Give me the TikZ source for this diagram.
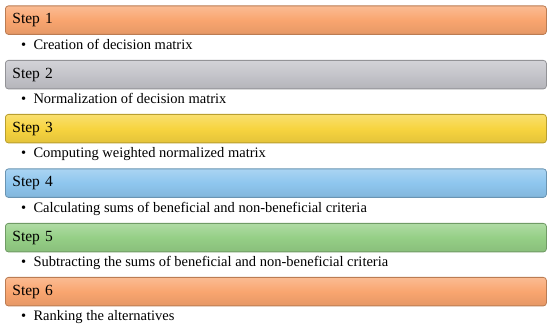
\documentclass[tikz,border=0pt]{standalone}
\usepackage{fontspec}
\setmainfont{Liberation Serif}
\usetikzlibrary{positioning}

\definecolor{barorange}{HTML}{F9A56F}
\definecolor{bargray}{HTML}{C4C4CA}
\definecolor{baryellow}{HTML}{F7D43F}
\definecolor{barblue}{HTML}{8EC6EE}
\definecolor{bargreen}{HTML}{95CF86}

\begin{document}
\begin{tikzpicture}[x=1pt, y=-1pt,
  stepbar/.style={draw=#1!75!black, line width=0.8pt, rounded corners=3pt,
    top color=#1!75!white, bottom color=#1!92!black, middle color=#1,
    minimum width=541pt, minimum height=28.5pt, text width=527pt,
    inner xsep=6pt, inner ysep=0pt, anchor=north west,
    font=\fontsize{15.5}{17}\selectfont},
  stepitem/.style={inner sep=0pt, font=\fontsize{14.5}{16}\selectfont}]
  \useasboundingbox (0,0) rectangle (550,326);

  % Bars
  \node[stepbar=barorange] (s1) at (5,5.5) {Step 1};
  \node[stepbar=bargray]   (s2) at (5,60)  {Step 2};
  \node[stepbar=baryellow] (s3) at (5,114) {Step 3};
  \node[stepbar=barblue]   (s4) at (5,168.5) {Step 4};
  \node[stepbar=bargreen]  (s5) at (5,223) {Step 5};
  \node[stepbar=barorange] (s6) at (5,277) {Step 6};

  % Items
  \node[stepitem, below right=4pt and 16pt of s1.south west] (i1) {\textbullet\ \ Creation of decision matrix};
  \node[stepitem, below right=4pt and 16pt of s2.south west] (i2) {\textbullet\ \ Normalization of decision matrix};
  \node[stepitem, below right=4pt and 16pt of s3.south west] (i3) {\textbullet\ \ Computing weighted normalized matrix};
  \node[stepitem, below right=4pt and 16pt of s4.south west] (i4) {\textbullet\ \ Calculating sums of beneficial and non-beneficial criteria};
  \node[stepitem, below right=4pt and 16pt of s5.south west] (i5) {\textbullet\ \ Subtracting the sums of beneficial and non-beneficial criteria};
  \node[stepitem, below right=4pt and 16pt of s6.south west] (i6) {\textbullet\ \ Ranking the alternatives};
\end{tikzpicture}
\end{document}
